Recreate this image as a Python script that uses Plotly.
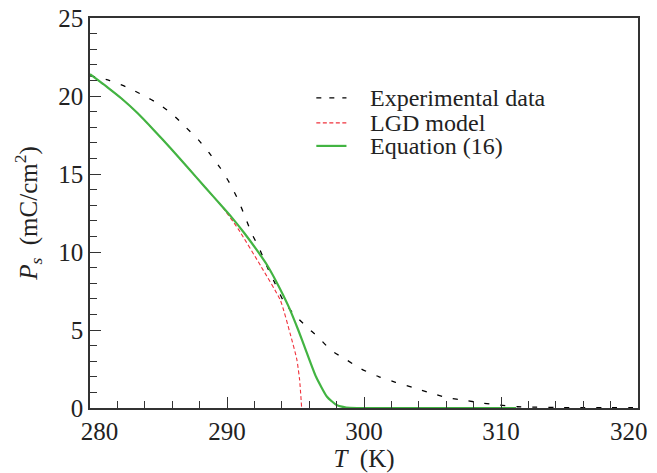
import plotly.graph_objects as go

# ---- data ----
T_exp = [280.0, 281.4, 282.6, 283.9, 285.0, 286.1, 287.0, 287.9, 288.7, 289.5, 290.2, 290.8,
         291.3, 291.8, 292.4, 292.9, 293.5, 294.1, 294.8, 295.7, 296.7, 297.6, 298.7, 299.8,
         301.1, 302.3, 303.6, 304.8, 306.0, 307.5, 308.6, 309.9, 311.2, 312.6, 314.0, 316.0,
         318.0, 320.0]
P_exp = [21.3, 21.0, 20.6, 20.04, 19.5, 18.76, 17.99, 17.2, 16.35, 15.4, 14.4, 13.36,
         12.3, 11.2, 10.15, 9.1, 8.0, 6.9, 6.1, 5.3, 4.5, 3.7, 3.1, 2.5,
         2.0, 1.65, 1.3, 0.98, 0.68, 0.47, 0.32, 0.19, 0.08, 0.05, 0.03, 0.02,
         0.02, 0.02]

T_lgd = [280.0, 281.3, 282.3, 283.5, 284.7, 285.9, 287.1, 288.4, 289.6, 290.8, 292.5, 293.9,
         294.6, 295.1, 295.3, 295.45]
P_lgd = [21.4, 20.54, 19.84, 18.88, 17.78, 16.63, 15.45, 14.15, 12.95, 11.5, 9.05, 6.9,
         4.8, 3.1, 1.8, 0.0]

T_eq = [280.0, 281.3, 282.3, 283.5, 284.7, 285.9, 287.1, 288.4, 289.6, 290.3, 291.3, 292.3,
        292.9, 293.6, 294.5, 295.2, 295.8, 296.5, 297.3, 298.0, 298.7, 299.5, 305.0, 311.1]
P_eq = [21.4, 20.54, 19.84, 18.88, 17.78, 16.63, 15.45, 14.15, 12.97, 12.27, 11.17, 9.97,
        9.2, 8.1, 6.5, 5.0, 3.6, 2.0, 0.72, 0.19, 0.03, 0.0, 0.0, 0.0]

series_names = ["Experimental data", "LGD model", "Equation (16)"]
X_TICKS = [280, 290, 300, 310, 320]
X_TICK_LABELS = ["\u00a0\u00a0\u00a0280", "290", "300", "310", "320\u00a0\u00a0\u00a0"]
Y_TICKS = [0, 5, 10, 15, 20, 25]
Y_TICK_LABELS = ["0", "5", "10", "15", "20", "25"]

FONT = "Liberation Serif"
BLACK_DASH = "5px,11px"
RED_DASH = "4px,2.5px"
GREEN = "rgb(66,180,66)"
RED = "rgb(240,50,60)"

fig = go.Figure()
fig.add_trace(go.Scatter(x=T_exp, y=P_exp, mode="lines", name=series_names[0],
                         line=dict(color="black", width=1.3, dash=BLACK_DASH, shape="spline", smoothing=0.6)))
fig.add_trace(go.Scatter(x=T_lgd, y=P_lgd, mode="lines", name=series_names[1],
                         line=dict(color=RED, width=1.1, dash=RED_DASH, shape="spline", smoothing=0.5)))
fig.add_trace(go.Scatter(x=T_eq, y=P_eq, mode="lines", name=series_names[2],
                         line=dict(color=GREEN, width=2.2, shape="spline", smoothing=0.5)))

# manual legend (samples + labels) in paper coordinates
legend_y = [0.795, 0.731, 0.672]
legend_styles = [dict(color="black", width=1.3, dash="5px,8px"),
                 dict(color=RED, width=1.1, dash=RED_DASH),
                 dict(color=GREEN, width=2.2)]
x0_leg, x1_leg, xt_leg = 0.413, 0.468, 0.508
for name, yy, st in zip(series_names, legend_y, legend_styles):
    fig.add_shape(type="line", xref="paper", yref="paper", x0=x0_leg, x1=x1_leg, y0=yy, y1=yy, line=st)
    fig.add_annotation(xref="paper", yref="paper", x=xt_leg, y=yy, text=name, showarrow=False,
                       xanchor="left", yanchor="middle", font=dict(family=FONT, size=24, color="#222"))

axis_common = dict(showline=True, linecolor="#333", linewidth=1.5, mirror=True, showgrid=False,
                   zeroline=False, ticks="inside", ticklen=11, tickwidth=1.3, tickcolor="#333",
                   automargin=False, ticklabeloverflow="allow",
                   tickfont=dict(family=FONT, size=25, color="#222"))

fig.update_xaxes(range=[280, 320], tickvals=X_TICKS, ticktext=X_TICK_LABELS,
                 minor=dict(ticks="inside", ticklen=7, tickwidth=1.3, tickcolor="#333", dtick=2, tick0=280),
                 title=dict(text="<i>T</i>  (K)", font=dict(family=FONT, size=25, color="#222"), standoff=6),
                 **axis_common)
fig.update_yaxes(range=[0, 25], tickvals=Y_TICKS, ticktext=Y_TICK_LABELS,
                 minor=dict(ticks="inside", ticklen=7, tickwidth=1.3, tickcolor="#333", dtick=1, tick0=0),
                 title=dict(text="<i>P</i><sub><i>s</i></sub>  (mC/cm<sup>2</sup>)",
                            font=dict(family=FONT, size=25, color="#222"), standoff=14),
                 **axis_common)

fig.update_layout(width=657, height=473, margin=dict(l=90, r=19, t=18, b=65),
                  plot_bgcolor="white", paper_bgcolor="white", showlegend=False,
                  font=dict(family=FONT))

fig.write_html("out.html", config={"displayModeBar": False},
               post_script="document.body.style.margin='0';document.body.style.overflow='hidden';")
